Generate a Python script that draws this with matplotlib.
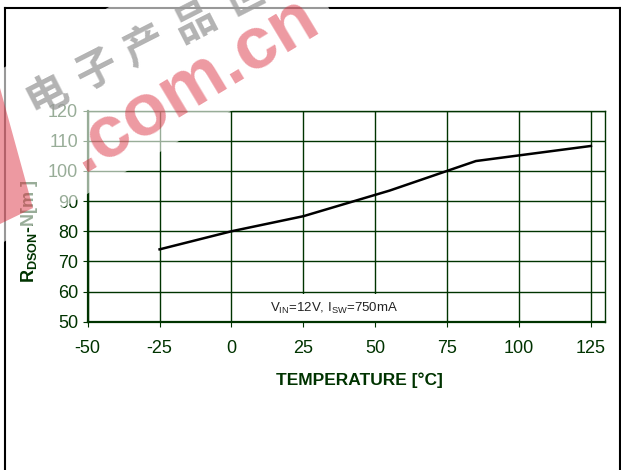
import matplotlib
matplotlib.use('Agg')
import matplotlib.pyplot as plt
from matplotlib.patches import Polygon
from matplotlib.lines import Line2D

plt.rcParams['font.family'] = ['Liberation Sans', 'DejaVu Sans']
plt.rcParams['mathtext.fontset'] = 'custom'
plt.rcParams['mathtext.rm'] = 'Liberation Sans'
plt.rcParams['mathtext.bf'] = 'Liberation Sans:bold'
plt.rcParams['axes.unicode_minus'] = False

# data
temp = [-25, 0, 25, 55, 85, 125]
rdson = [74, 80, 85, 93.5, 103.3, 108.3]
xticks = [-50, -25, 0, 25, 50, 75, 100, 125]
yticks = [50, 60, 70, 80, 90, 100, 110, 120]

W, H = 621, 470
green = '#003300'


def px(x, y):
    # pixel position -> figure fraction
    return (x / W, 1 - y / H)


fig = plt.figure(figsize=(W / 100, H / 100), dpi=100)
ax = fig.add_axes([87.7 / W, 1 - 321.7 / H, (605.3 - 87.7) / W, (321.7 - 110.7) / H])

ax.plot(temp, rdson, color='black', lw=1.8, zorder=3)
ax.set_xlim(-50, 130)
ax.set_ylim(50, 120)
ax.set_xticks(xticks)
ax.set_yticks(yticks)
ax.set_axisbelow(True)
ax.grid(True, color=green, lw=1.0)
for s in ax.spines.values():
    s.set_color(green)
    s.set_linewidth(1.0)
ax.spines['left'].set_linewidth(1.6)
ax.spines['bottom'].set_linewidth(1.6)
ax.tick_params(axis='both', direction='out', length=3.5, color=green,
               labelcolor=green, labelsize=13)
ax.tick_params(axis='x', pad=10)
ax.tick_params(axis='y', pad=3.5)

ax.text(0.475, 0.065, r'V$_{\mathrm{IN}}$=12V, I$_{\mathrm{SW}}$=750mA',
        transform=ax.transAxes, ha='center', va='center', fontsize=9.5,
        color='#222222', zorder=2.2,
        bbox=dict(boxstyle='square,pad=0.45', fc='white', ec='none'))

fig.text(*px(359, 380), 'TEMPERATURE [°C]', ha='center', va='center',
         fontsize=12.5, fontweight='bold', color=green)
fig.text(*px(29.5, 231), r'R$_{\mathbf{DSON}}$-N[m ]', ha='center', va='center',
         rotation=90, fontsize=13, fontweight='bold', color=green)

# outer frame (no bottom edge)
for (x0, y0), (x1, y1) in [((5, 8), (620, 8)), ((5, 8), (5, 470)), ((619.5, 8), (619.5, 470))]:
    a, b = px(x0, y0), px(x1, y1)
    fig.add_artist(Line2D([a[0], b[0]], [a[1], b[1]], color='black', lw=1.5, zorder=1))

# watermark
band = [px(-100, 127.5), px(-24.5, 258.3), px(349, 43), px(273.5, -87.8)]
fig.add_artist(Polygon(band, closed=True, fc='white', ec='none', alpha=0.6,
                       transform=fig.transFigure, zorder=5))
wedge = [px(0, 88), px(33, 208), px(0, 224)]
fig.add_artist(Polygon(wedge, closed=True, fc='#d81e30', ec='none', alpha=0.45,
                       transform=fig.transFigure, zorder=6))
for i, ch in enumerate('电子产品世界'):
    fig.text(*px(47 + 49 * i, 94 - 24 * i), ch, ha='center', va='center',
             fontsize=30, rotation=27, color='#999999', alpha=0.75,
             family=['Noto Sans CJK SC'], fontweight='bold', zorder=6)
fig.text(*px(193, 84), '.com.cn', ha='center', va='center', fontsize=53,
         fontweight='bold', rotation=31, color='#d81e30', alpha=0.45, zorder=7)

fig.savefig('out.png', dpi=100)
